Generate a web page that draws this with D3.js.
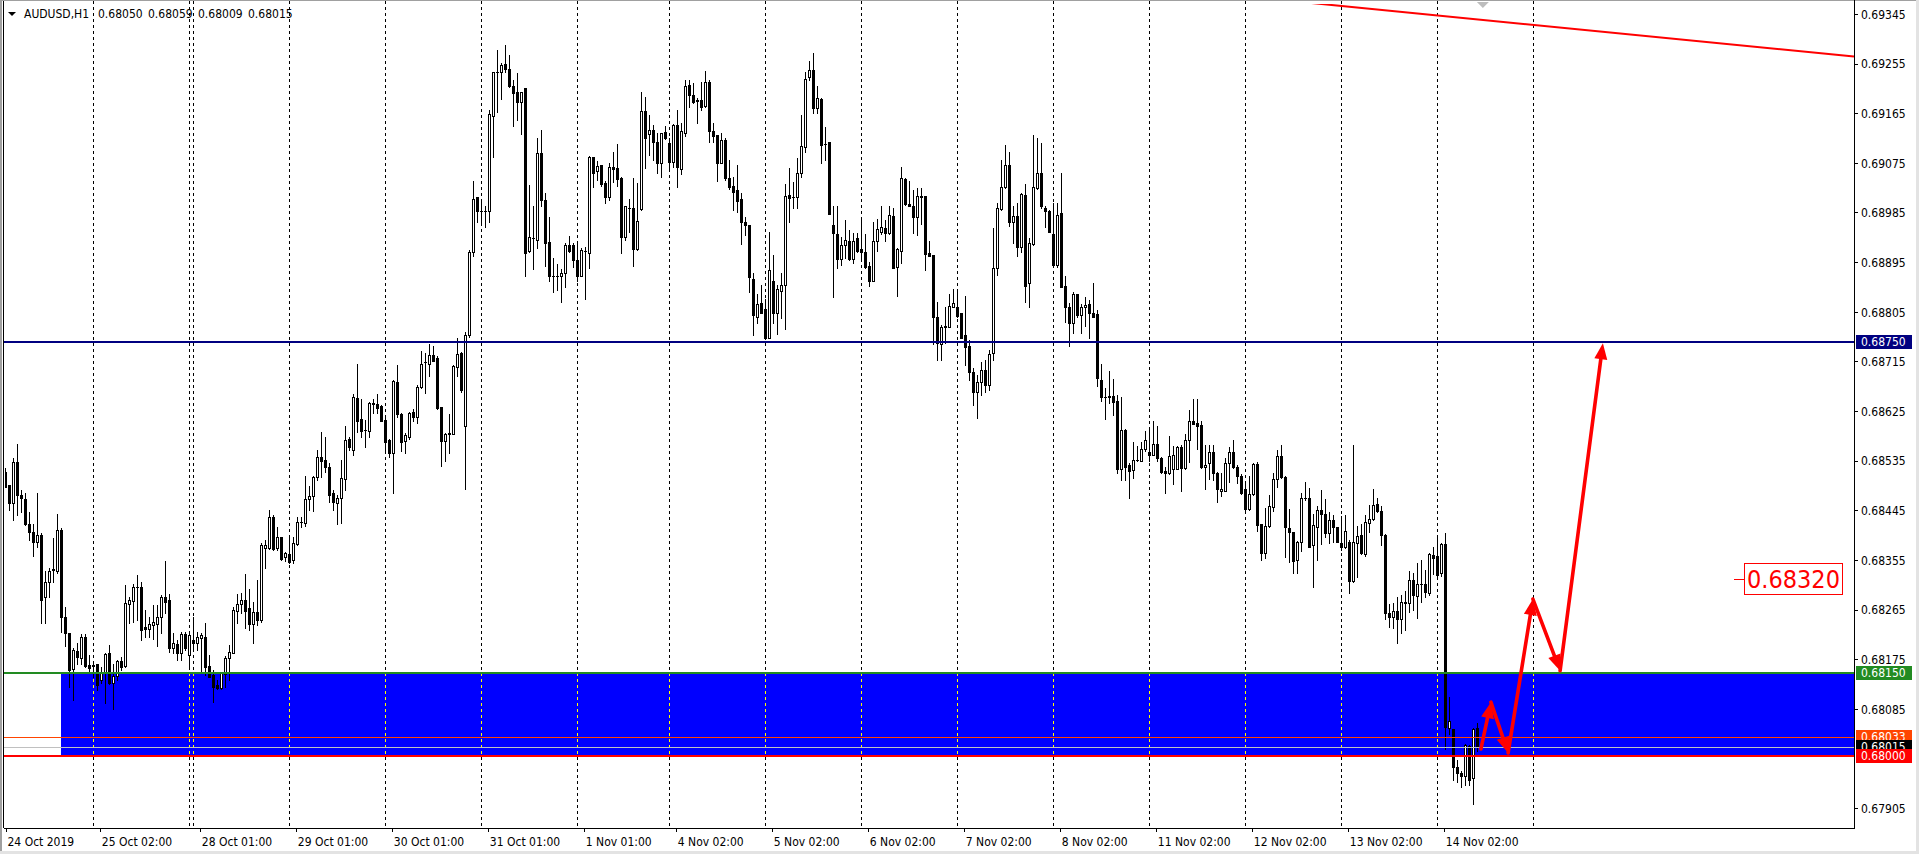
<!DOCTYPE html>
<html>
<head>
<meta charset="utf-8">
<title>AUDUSD,H1</title>
<script src="https://cdn.jsdelivr.net/npm/d3@7/dist/d3.min.js"></script>
<style>
html,body{margin:0;padding:0;background:#fff;overflow:hidden;}
svg{display:block;}
</style>
</head>
<body>
<svg id="chart" width="1919" height="854"></svg>
<script>
// ================= DATA =================
const symbolName = "AUDUSD,H1";

const openP = [
0.68515,0.68491,0.68458,0.68533,0.68473,0.68465,0.68421,0.68405,0.68388,0.68400,0.68287,0.68315,0.68337,0.68335,0.68410,0.68252,0.68222,0.68157,0.68190,0.68177,
0.68215,0.68164,0.68164,0.68166,0.68137,0.68149,0.68186,0.68131,0.68145,0.68172,0.68163,0.68275,0.68281,0.68306,0.68305,0.68233,0.68229,0.68237,0.68239,0.68251,
0.68287,0.68282,0.68195,0.68202,0.68186,0.68221,0.68182,0.68210,0.68204,0.68213,0.68216,0.68163,0.68146,0.68128,0.68122,0.68148,0.68177,0.68187,0.68263,0.68275,
0.68283,0.68267,0.68239,0.68260,0.68246,0.68376,0.68376,0.68432,0.68376,0.68396,0.68360,0.68366,0.68355,0.68384,0.68424,0.68422,0.68465,0.68471,0.68506,0.68541,
0.68536,0.68523,0.68476,0.68459,0.68467,0.68502,0.68574,0.68555,0.68648,0.68610,0.68591,0.68589,0.68639,0.68637,0.68634,0.68609,0.68572,0.68548,0.68677,0.68619,
0.68571,0.68577,0.68623,0.68615,0.68668,0.68713,0.68710,0.68726,0.68722,0.68632,0.68571,0.68585,0.68583,0.68705,0.68730,0.68598,0.68763,0.68914,0.69013,0.68988,
0.68988,0.68987,0.69160,0.69239,0.69239,0.69254,0.69245,0.69215,0.69204,0.69186,0.69210,0.68916,0.68938,0.68936,0.69092,0.69008,0.68931,0.68870,0.68870,0.68869,
0.68875,0.68926,0.68926,0.68899,0.68870,0.68916,0.68912,0.69086,0.69061,0.69071,0.69038,0.69014,0.69068,0.69066,0.69048,0.68941,0.68993,0.68993,0.68919,0.68991,
0.69169,0.69127,0.69135,0.69112,0.69074,0.69131,0.69111,0.69076,0.69144,0.69063,0.69129,0.69216,0.69198,0.69189,0.69189,0.69178,0.69221,0.69133,0.69125,0.69075,
0.69117,0.69048,0.69033,0.69025,0.69009,0.68967,0.68962,0.68864,0.68795,0.68820,0.68810,0.68757,0.68861,0.68803,0.68843,0.68854,0.69017,0.69013,0.69013,0.69056,
0.69104,0.69230,0.69243,0.69174,0.69191,0.69109,0.69112,0.68962,0.68946,0.68900,0.68926,0.68934,0.68900,0.68938,0.68919,0.68913,0.68888,0.68861,0.68933,0.68950,
0.68956,0.68948,0.68979,0.68886,0.68916,0.69045,0.69000,0.68996,0.68976,0.69015,0.69015,0.68912,0.68908,0.68795,0.68747,0.68777,0.68778,0.68814,0.68814,0.68803,
0.68763,0.68743,0.68696,0.68660,0.68678,0.68699,0.68672,0.68730,0.68884,0.68991,0.69032,0.69071,0.68968,0.68979,0.68922,0.69017,0.68857,0.68928,0.69029,0.69057,
0.68994,0.68987,0.68946,0.68890,0.68984,0.68852,0.68813,0.68785,0.68837,0.68799,0.68813,0.68819,0.68802,0.68801,0.68681,0.68650,0.68650,0.68652,0.68644,0.68519,
0.68591,0.68527,0.68518,0.68536,0.68535,0.68556,0.68551,0.68545,0.68565,0.68539,0.68517,0.68512,0.68519,0.68519,0.68559,0.68521,0.68572,0.68607,0.68604,0.68600,
0.68523,0.68530,0.68551,0.68512,0.68480,0.68480,0.68531,0.68551,0.68523,0.68507,0.68483,0.68447,0.68475,0.68529,0.68420,0.68367,0.68416,0.68451,0.68501,0.68543,
0.68505,0.68412,0.68406,0.68355,0.68388,0.68467,0.68467,0.68382,0.68415,0.68446,0.68438,0.68404,0.68427,0.68415,0.68386,0.68379,0.68388,0.68317,0.68386,0.68400,
0.68366,0.68422,0.68429,0.68456,0.68444,0.68400,0.68258,0.68252,0.68262,0.68247,0.68276,0.68276,0.68318,0.68289,0.68312,0.68311,0.68295,0.68364,0.68362,0.68331,
0.68384,0.68051,0.68048,0.67980,0.67969,0.67963,0.68017,0.67959,0.68050];

const highP = [
0.68521,0.68491,0.68539,0.68566,0.68482,0.68476,0.68442,0.68421,0.68476,0.68403,0.68335,0.68340,0.68394,0.68439,0.68412,0.68270,0.68222,0.68195,0.68204,0.68220,
0.68220,0.68182,0.68170,0.68167,0.68161,0.68186,0.68201,0.68167,0.68173,0.68179,0.68309,0.68288,0.68312,0.68328,0.68315,0.68264,0.68252,0.68273,0.68273,0.68291,
0.68353,0.68294,0.68222,0.68210,0.68225,0.68225,0.68222,0.68252,0.68225,0.68222,0.68241,0.68182,0.68155,0.68137,0.68152,0.68181,0.68201,0.68270,0.68294,0.68295,
0.68329,0.68303,0.68279,0.68318,0.68385,0.68391,0.68446,0.68436,0.68415,0.68397,0.68370,0.68397,0.68397,0.68432,0.68433,0.68507,0.68489,0.68507,0.68554,0.68587,
0.68577,0.68530,0.68482,0.68473,0.68536,0.68597,0.68578,0.68656,0.68710,0.68647,0.68609,0.68642,0.68646,0.68656,0.68636,0.68615,0.68575,0.68681,0.68708,0.68621,
0.68586,0.68624,0.68628,0.68672,0.68733,0.68730,0.68746,0.68742,0.68725,0.68633,0.68586,0.68620,0.68708,0.68757,0.68732,0.68769,0.68917,0.69043,0.69014,0.69005,
0.68997,0.69170,0.69240,0.69280,0.69257,0.69289,0.69271,0.69225,0.69238,0.69204,0.69210,0.69035,0.68997,0.69120,0.69135,0.69020,0.68976,0.68902,0.68892,0.68882,
0.68929,0.68942,0.68929,0.68932,0.68920,0.68923,0.69088,0.69086,0.69079,0.69071,0.69043,0.69074,0.69094,0.69109,0.69050,0.68997,0.69009,0.69047,0.69038,0.69204,
0.69195,0.69162,0.69144,0.69129,0.69130,0.69141,0.69120,0.69146,0.69171,0.69147,0.69225,0.69225,0.69219,0.69192,0.69222,0.69242,0.69225,0.69148,0.69125,0.69129,
0.69121,0.69080,0.69050,0.69071,0.69020,0.68977,0.68962,0.68875,0.68838,0.68854,0.68829,0.68949,0.68908,0.68854,0.68875,0.69037,0.69065,0.69041,0.69083,0.69162,
0.69239,0.69260,0.69275,0.69214,0.69192,0.69140,0.69112,0.68996,0.68997,0.68941,0.68971,0.68953,0.68948,0.68948,0.68971,0.68946,0.68896,0.68968,0.68973,0.68997,
0.68971,0.68996,0.68993,0.68920,0.69067,0.69047,0.69043,0.69026,0.69029,0.69029,0.69015,0.68934,0.68908,0.68823,0.68781,0.68814,0.68838,0.68846,0.68841,0.68803,
0.68834,0.68754,0.68703,0.68690,0.68714,0.68718,0.68736,0.68956,0.69003,0.69081,0.69107,0.69095,0.68997,0.69002,0.69021,0.69037,0.68938,0.69126,0.69121,0.69111,
0.68996,0.68990,0.69002,0.69002,0.69057,0.68869,0.68821,0.68841,0.68838,0.68819,0.68832,0.68826,0.68858,0.68808,0.68710,0.68666,0.68698,0.68683,0.68654,0.68651,
0.68592,0.68530,0.68568,0.68562,0.68568,0.68589,0.68591,0.68606,0.68598,0.68542,0.68524,0.68580,0.68562,0.68562,0.68563,0.68583,0.68627,0.68646,0.68646,0.68607,
0.68563,0.68563,0.68563,0.68515,0.68512,0.68539,0.68559,0.68572,0.68527,0.68511,0.68494,0.68507,0.68530,0.68533,0.68420,0.68449,0.68473,0.68512,0.68554,0.68563,
0.68507,0.68447,0.68406,0.68390,0.68477,0.68497,0.68485,0.68439,0.68453,0.68482,0.68465,0.68441,0.68436,0.68415,0.68435,0.68436,0.68391,0.68563,0.68416,0.68420,
0.68436,0.68455,0.68483,0.68467,0.68453,0.68402,0.68275,0.68276,0.68288,0.68291,0.68299,0.68335,0.68332,0.68349,0.68355,0.68337,0.68368,0.68379,0.68394,0.68386,
0.68403,0.68106,0.68048,0.67992,0.67973,0.68021,0.68019,0.68050,0.68059];

const lowP = [
0.68487,0.68446,0.68427,0.68436,0.68442,0.68418,0.68391,0.68362,0.68379,0.68241,0.68241,0.68288,0.68315,0.68331,0.68225,0.68198,0.68124,0.68101,0.68167,0.68167,
0.68161,0.68152,0.68143,0.68119,0.68131,0.68095,0.68130,0.68084,0.68137,0.68155,0.68161,0.68240,0.68243,0.68246,0.68210,0.68215,0.68215,0.68211,0.68198,0.68222,
0.68258,0.68188,0.68186,0.68173,0.68173,0.68192,0.68161,0.68195,0.68192,0.68152,0.68146,0.68142,0.68098,0.68120,0.68120,0.68125,0.68138,0.68186,0.68241,0.68258,
0.68231,0.68228,0.68205,0.68237,0.68243,0.68341,0.68374,0.68373,0.68373,0.68355,0.68353,0.68349,0.68349,0.68382,0.68415,0.68416,0.68446,0.68444,0.68500,0.68506,
0.68515,0.68460,0.68446,0.68420,0.68422,0.68482,0.68554,0.68545,0.68587,0.68578,0.68560,0.68577,0.68622,0.68621,0.68606,0.68554,0.68541,0.68477,0.68615,0.68553,
0.68548,0.68575,0.68606,0.68603,0.68666,0.68658,0.68688,0.68716,0.68628,0.68526,0.68535,0.68549,0.68583,0.68688,0.68659,0.68483,0.68760,0.68906,0.68967,0.68967,
0.68958,0.68968,0.69085,0.69168,0.69191,0.69239,0.69212,0.69141,0.69153,0.69127,0.68870,0.68914,0.68882,0.68920,0.68997,0.68888,0.68861,0.68840,0.68844,0.68823,
0.68850,0.68914,0.68886,0.68860,0.68869,0.68829,0.68884,0.69032,0.69044,0.69033,0.69003,0.69008,0.69041,0.69033,0.68912,0.68936,0.68950,0.68888,0.68917,0.68990,
0.69065,0.69089,0.69080,0.69056,0.69049,0.69118,0.69065,0.69067,0.69032,0.69055,0.69124,0.69176,0.69184,0.69148,0.69171,0.69177,0.69112,0.69112,0.69043,0.69074,
0.69044,0.69027,0.68990,0.68985,0.68927,0.68944,0.68840,0.68763,0.68784,0.68802,0.68757,0.68757,0.68784,0.68765,0.68793,0.68773,0.68967,0.68993,0.68993,0.69049,
0.69095,0.69225,0.69165,0.69165,0.69075,0.69080,0.68982,0.68831,0.68884,0.68890,0.68902,0.68899,0.68893,0.68914,0.68899,0.68885,0.68852,0.68861,0.68916,0.68946,
0.68934,0.68946,0.68884,0.68834,0.68893,0.68999,0.68996,0.68947,0.68944,0.68965,0.68880,0.68906,0.68747,0.68718,0.68718,0.68748,0.68778,0.68813,0.68795,0.68757,
0.68708,0.68681,0.68636,0.68612,0.68654,0.68660,0.68663,0.68718,0.68872,0.68990,0.69029,0.68960,0.68929,0.68906,0.68914,0.68823,0.68813,0.68926,0.69027,0.68994,
0.68958,0.68950,0.68890,0.68887,0.68849,0.68787,0.68743,0.68766,0.68796,0.68766,0.68779,0.68757,0.68796,0.68670,0.68644,0.68610,0.68640,0.68618,0.68513,0.68499,
0.68500,0.68467,0.68503,0.68535,0.68535,0.68553,0.68535,0.68545,0.68535,0.68513,0.68476,0.68511,0.68493,0.68519,0.68480,0.68519,0.68533,0.68601,0.68557,0.68521,
0.68483,0.68501,0.68500,0.68460,0.68471,0.68480,0.68497,0.68521,0.68495,0.68475,0.68444,0.68446,0.68473,0.68408,0.68355,0.68358,0.68415,0.68444,0.68488,0.68503,
0.68360,0.68352,0.68331,0.68331,0.68372,0.68464,0.68378,0.68305,0.68355,0.68384,0.68397,0.68385,0.68388,0.68388,0.68373,0.68376,0.68295,0.68315,0.68324,0.68366,
0.68362,0.68406,0.68427,0.68442,0.68382,0.68247,0.68234,0.68231,0.68204,0.68222,0.68228,0.68261,0.68265,0.68249,0.68279,0.68288,0.68291,0.68329,0.68326,0.68326,
0.68012,0.68040,0.67955,0.67953,0.67944,0.67947,0.67947,0.67912,0.68009];

const closeP = [
0.68488,0.68458,0.68533,0.68473,0.68467,0.68420,0.68405,0.68388,0.68400,0.68282,0.68315,0.68335,0.68338,0.68409,0.68252,0.68222,0.68155,0.68192,0.68178,0.68215,
0.68163,0.68159,0.68163,0.68128,0.68150,0.68184,0.68131,0.68145,0.68172,0.68161,0.68276,0.68282,0.68305,0.68305,0.68228,0.68229,0.68239,0.68243,0.68251,0.68287,
0.68279,0.68195,0.68204,0.68186,0.68221,0.68195,0.68219,0.68204,0.68215,0.68219,0.68161,0.68143,0.68125,0.68122,0.68149,0.68177,0.68188,0.68264,0.68275,0.68283,
0.68263,0.68239,0.68260,0.68246,0.68382,0.68382,0.68432,0.68374,0.68397,0.68356,0.68368,0.68352,0.68385,0.68424,0.68423,0.68465,0.68471,0.68506,0.68541,0.68535,
0.68523,0.68473,0.68460,0.68467,0.68503,0.68572,0.68560,0.68651,0.68607,0.68589,0.68590,0.68639,0.68638,0.68631,0.68607,0.68569,0.68548,0.68679,0.68619,0.68568,
0.68581,0.68622,0.68615,0.68669,0.68710,0.68713,0.68726,0.68716,0.68631,0.68571,0.68583,0.68584,0.68707,0.68728,0.68663,0.68763,0.68914,0.69009,0.68988,0.68988,
0.68988,0.69164,0.69239,0.69239,0.69253,0.69245,0.69215,0.69202,0.69185,0.69204,0.68911,0.68940,0.68938,0.69092,0.69008,0.68930,0.68869,0.68870,0.68870,0.68875,
0.68926,0.68916,0.68898,0.68869,0.68917,0.68916,0.69086,0.69057,0.69069,0.69037,0.69013,0.69068,0.69063,0.69046,0.68940,0.68996,0.68993,0.68918,0.68970,0.69169,
0.69121,0.69135,0.69112,0.69074,0.69129,0.69121,0.69077,0.69144,0.69068,0.69132,0.69214,0.69198,0.69186,0.69188,0.69177,0.69221,0.69133,0.69124,0.69074,0.69117,
0.69048,0.69032,0.69023,0.69005,0.68967,0.68962,0.68868,0.68799,0.68819,0.68802,0.68757,0.68881,0.68803,0.68846,0.68854,0.69015,0.69011,0.69013,0.69056,0.69106,
0.69227,0.69243,0.69174,0.69192,0.69107,0.69109,0.68982,0.68947,0.68900,0.68926,0.68935,0.68900,0.68933,0.68916,0.68913,0.68887,0.68860,0.68933,0.68955,0.68958,
0.68948,0.68981,0.68884,0.68918,0.69047,0.69000,0.68996,0.68976,0.69015,0.69013,0.68910,0.68906,0.68795,0.68748,0.68778,0.68779,0.68815,0.68820,0.68797,0.68757,
0.68741,0.68696,0.68660,0.68678,0.68699,0.68672,0.68728,0.68884,0.68993,0.69031,0.69072,0.68968,0.68979,0.68923,0.69019,0.68852,0.68929,0.69031,0.69057,0.68996,
0.68987,0.68950,0.68890,0.68981,0.68850,0.68813,0.68785,0.68837,0.68799,0.68814,0.68817,0.68803,0.68796,0.68684,0.68650,0.68650,0.68652,0.68642,0.68519,0.68591,
0.68524,0.68517,0.68536,0.68536,0.68557,0.68572,0.68545,0.68565,0.68539,0.68515,0.68512,0.68543,0.68545,0.68559,0.68521,0.68572,0.68607,0.68601,0.68598,0.68523,
0.68527,0.68551,0.68512,0.68483,0.68483,0.68530,0.68551,0.68523,0.68507,0.68476,0.68447,0.68475,0.68529,0.68418,0.68367,0.68416,0.68453,0.68501,0.68543,0.68505,
0.68414,0.68406,0.68353,0.68388,0.68467,0.68467,0.68379,0.68418,0.68446,0.68439,0.68404,0.68427,0.68414,0.68388,0.68379,0.68407,0.68317,0.68387,0.68398,0.68367,
0.68423,0.68429,0.68455,0.68444,0.68400,0.68258,0.68252,0.68262,0.68247,0.68279,0.68279,0.68318,0.68291,0.68312,0.68311,0.68297,0.68366,0.68358,0.68328,0.68384,
0.68052,0.68063,0.67980,0.67968,0.67963,0.68019,0.67956,0.68048,0.68015];

const priceTicks = [0.69345,0.69255,0.69165,0.69075,0.68985,0.68895,0.68805,0.68715,0.68625,0.68535,0.68445,0.68355,0.68265,0.68175,0.68085,0.67905];

const timeLabels = ["24 Oct 2019","25 Oct 02:00","28 Oct 01:00","29 Oct 01:00","30 Oct 01:00","31 Oct 01:00","1 Nov 01:00","4 Nov 02:00","5 Nov 02:00","6 Nov 02:00","7 Nov 02:00","8 Nov 02:00","11 Nov 02:00","12 Nov 02:00","13 Nov 02:00","14 Nov 02:00"];
const timeLabelBars = [0,22,47,71,95,119,143,166,190,214,238,262,286,310,334,358];
const gridBars = [22,46,47,71,95,119,143,166,190,214,238,262,286,310,334,358,382];

// horizontal levels: resistance, zone top, ask, bid, zone bottom
const levelPrices = [0.68750,0.68150,0.68033,0.68015,0.68000];
const zoneTop = 0.68150, zoneBottom = 0.68000, zoneStartBar = 13.9;
const trendBars = [329.2, 462.2];
const trendPrices = [0.69363, 0.69268];
const pathBars = [368.9, 371.4, 375.7, 381.9, 388.7, 399.4];
const pathPrices = [0.68012, 0.68097, 0.68005, 0.68284, 0.68154, 0.68748];
const targetPrice = 0.68320, targetBar = 434.7, targetLeaderBar = 432.2;
const shiftMarkerBar = 369.4;

// ================= STYLE =================
const levelLineColors = ["#000080","#228B22","#FF4500","#C0C0C0","#FF0000"];
const levelBoxColors  = ["#000080","#228B22","#FF4500","#000000","#FF0000"];
const levelWidths     = [2,2,1,1,2];

// ================= DRAW =================
const svg = d3.select("#chart");
const L = 4, R = 1854, T = 4, B = 828;
const x = d3.scaleLinear().domain([-0.325, 462.175]).range([L, R]);
const y = d3.scaleLinear().domain([0.678688, 0.693631]).range([B, T]);

function fontAvailable(name){
  const t = svg.append("text").attr("font-size",40).attr("font-family","monospace").text("0.68320 AUDUSD Oct");
  const w1 = t.node().getComputedTextLength();
  t.attr("font-family", name + ",monospace");
  const w2 = t.node().getComputedTextLength();
  t.remove();
  return Math.abs(w1 - w2) > 1;
}
const condensed = fontAvailable('"DejaVu Sans Condensed"');
const FONT = condensed ? '"DejaVu Sans Condensed"' : '"DejaVu Sans"';
const FS = condensed ? 12 : 11;
const BIGFS = condensed ? 25 : 22.5;

svg.append("rect").attr("width",1919).attr("height",854).attr("fill","#fff");

const defs = svg.append("defs");
defs.append("clipPath").attr("id","plotClip").append("rect")
  .attr("x",L+1).attr("y",T).attr("width",R-L-1).attr("height",B-T);

const zx0 = Math.round(x(zoneStartBar));
const zy0 = Math.round(y(zoneTop)), zy1 = Math.round(y(zoneBottom));
defs.append("clipPath").attr("id","zoneClip").append("rect")
  .attr("x",zx0).attr("y",zy0).attr("width",R-zx0).attr("height",zy1-zy0);

// zone rectangle (background object)
svg.append("rect").attr("x",zx0).attr("y",zy0).attr("width",R-zx0).attr("height",zy1-zy0)
  .attr("fill","#0000FF").attr("shape-rendering","crispEdges");

// grid (inverted colour inside the zone)
function drawGrid(color, clip){
  const g = svg.append("g").attr("shape-rendering","crispEdges");
  if (clip) g.attr("clip-path", clip);
  g.selectAll("line").data(gridBars).join("line")
    .attr("x1",d=>Math.floor(x(d))+0.5).attr("x2",d=>Math.floor(x(d))+0.5)
    .attr("y1",1).attr("y2",B)
    .attr("stroke",color).attr("stroke-width",1).attr("stroke-dasharray","3,3");
}
drawGrid("#000", null);
drawGrid("#FFFF00", "url(#zoneClip)");

// candles
const bars = d3.range(openP.length).map(i => ({i, o:openP[i], h:highP[i], l:lowP[i], c:closeP[i]}));
const px = d => Math.floor(x(d.i));
const py = v => Math.round(y(v));
const bTop = d => py(Math.max(d.o,d.c));
const bH = d => Math.max(1, py(Math.min(d.o,d.c)) - bTop(d) + 1);
const isBull = d => d.c > d.o && bH(d) >= 3;

const cg = svg.append("g").attr("clip-path","url(#plotClip)").attr("shape-rendering","crispEdges");
cg.selectAll("rect.wick").data(bars).join("rect").attr("class","wick")
  .attr("x",px).attr("y",d=>py(d.h)).attr("width",1)
  .attr("height",d=>Math.max(1, py(d.l)-py(d.h)+1)).attr("fill","#000");
cg.selectAll("rect.body").data(bars).join("rect").attr("class","body")
  .attr("x",d=>px(d)-1).attr("y",bTop).attr("width",3).attr("height",bH)
  .attr("fill",d=>isBull(d) ? "#fff" : "#000");
cg.selectAll("rect.outline").data(bars.filter(isBull)).join("rect").attr("class","outline")
  .attr("x",d=>px(d)-0.5).attr("y",d=>bTop(d)+0.5).attr("width",2).attr("height",d=>bH(d)-1)
  .attr("fill","none").attr("stroke","#000").attr("stroke-width",1);

// horizontal level lines
const lg = svg.append("g").attr("shape-rendering","crispEdges");
lg.selectAll("rect").data(levelPrices).join("rect")
  .attr("x",L).attr("width",R-L)
  .attr("y",(d,i)=>Math.round(y(d)) - (levelWidths[i] > 1 ? 1 : 0))
  .attr("height",(d,i)=>levelWidths[i])
  .attr("fill",(d,i)=>levelLineColors[i]);

// trend line
const tSlope = (trendPrices[1]-trendPrices[0])/(trendBars[1]-trendBars[0]);
const tb0 = x.invert(L), tb1 = x.invert(R);
svg.append("line").attr("clip-path","url(#plotClip)")
  .attr("x1",x(tb0)).attr("y1",y(trendPrices[0] + (tb0-trendBars[0])*tSlope))
  .attr("x2",x(tb1)).attr("y2",y(trendPrices[0] + (tb1-trendBars[0])*tSlope))
  .attr("stroke","#FF0000").attr("stroke-width",2);

// projected path arrows
const ag = svg.append("g");
const pts = pathBars.map((b,i)=>[x(b), y(pathPrices[i])]);
for (let i=0;i<pts.length-1;i++){
  const [x0,y0] = pts[i], [x1,y1] = pts[i+1];
  const dx = x1-x0, dy = y1-y0, len = Math.hypot(dx,dy);
  const ux = dx/len, uy = dy/len, HL = 16, HW = 6.5;
  const bx = x1-ux*HL, by = y1-uy*HL;
  ag.append("line").attr("x1",x0).attr("y1",y0).attr("x2",bx+ux*3).attr("y2",by+uy*3)
    .attr("stroke","#FF0000").attr("stroke-width",3.6).attr("stroke-linecap","round");
  ag.append("polygon")
    .attr("points",[[x1,y1],[bx-uy*HW,by+ux*HW],[bx+uy*HW,by-ux*HW]].map(p=>p.join(",")).join(" "))
    .attr("fill","#FF0000");
}

// target price label
const ty = Math.round(y(targetPrice));
const tx = Math.round(x(targetBar));
svg.append("line").attr("x1",Math.round(x(targetLeaderBar))).attr("x2",tx).attr("y1",ty+0.5).attr("y2",ty+0.5)
  .attr("stroke","#FF0000").attr("stroke-width",1).attr("shape-rendering","crispEdges");
const tBox = svg.append("rect");
const tText = svg.append("text").attr("x",tx+3).attr("y",ty).attr("dy","0.36em")
  .attr("font-family",FONT).attr("font-size",BIGFS).attr("fill","#FF0000")
  .text(targetPrice.toFixed(5));
const tw = tText.node().getComputedTextLength();
tBox.attr("x",tx+0.5).attr("y",ty-15.5).attr("width",Math.round(tw)+5).attr("height",31)
  .attr("fill","#fff").attr("stroke","#FF0000").attr("stroke-width",1);

// frame
const fg = svg.append("g").attr("shape-rendering","crispEdges");
fg.append("rect").attr("x",0).attr("y",0).attr("width",1919).attr("height",1).attr("fill","#A0A0A0");
fg.append("rect").attr("x",0).attr("y",0).attr("width",2).attr("height",854).attr("fill","#A0A0A0");
fg.append("rect").attr("x",1916).attr("y",0).attr("width",3).attr("height",854).attr("fill","#E3E3E3");
fg.append("rect").attr("x",0).attr("y",851).attr("width",1919).attr("height",3).attr("fill","#E3E3E3");
fg.append("rect").attr("x",3).attr("y",1).attr("width",1).attr("height",B-1).attr("fill","#000");
fg.append("rect").attr("x",L).attr("y",B).attr("width",R-L+1).attr("height",1).attr("fill","#000");

// price axis
const yAxis = d3.axisRight(y).tickValues(priceTicks).tickSize(4).tickSizeOuter(0).tickPadding(3)
  .tickFormat(d3.format(".5f"));
svg.append("g").attr("transform",`translate(${R},0)`).attr("shape-rendering","crispEdges")
  .call(yAxis)
  .call(g=>g.select(".domain").attr("stroke","#000").attr("d",`M0.5,0V${B+1}`))
  .call(g=>g.selectAll("text").attr("font-family",FONT).attr("font-size",FS).attr("fill","#000").attr("dy","0.36em"));

// level labels on price axis (overlapping boxes, as on the terminal)
const lbl = svg.append("g");
levelPrices.forEach((p,i)=>{
  const yy = Math.round(y(p));
  lbl.append("rect").attr("x",R+2).attr("y",yy-7).attr("width",56).attr("height",14)
    .attr("fill",levelBoxColors[i]).attr("shape-rendering","crispEdges");
  lbl.append("text").attr("x",R+7).attr("y",yy).attr("dy","0.36em")
    .attr("font-family",FONT).attr("font-size",FS).attr("fill","#fff").text(p.toFixed(5));
});

// time axis
const xTick = x.copy().range([L+7, R+7]);
const xAxis = d3.axisBottom(xTick).tickValues(timeLabelBars).tickSize(4).tickSizeOuter(0).tickPadding(5)
  .tickFormat((d,i)=>timeLabels[i]);
svg.append("g").attr("transform",`translate(0,${B})`).attr("shape-rendering","crispEdges")
  .call(xAxis)
  .call(g=>g.select(".domain").remove())
  .call(g=>g.selectAll(".tick").filter((d,i)=>i===0).attr("transform","translate(6.5,0)"))
  .call(g=>g.selectAll("text").attr("text-anchor","start").attr("dx",1)
    .attr("font-family",FONT).attr("font-size",FS).attr("fill","#000"));

// header
const last = bars[bars.length-1];
svg.append("path").attr("d","M8,12 L16,12 L12,16 Z").attr("fill","#000");
svg.append("text").attr("x",24).attr("y",18).attr("font-family",FONT).attr("font-size",FS)
  .attr("fill","#000").text(symbolName);
[last.o,last.h,last.l,last.c].forEach((v,i)=>{
  svg.append("text").attr("x",98+i*50).attr("y",18).attr("font-family",FONT).attr("font-size",FS)
    .attr("fill","#000").text(v.toFixed(5));
});

// chart shift marker
const sx = x(shiftMarkerBar);
svg.append("path").attr("d",`M${sx-6},2 L${sx+6},2 L${sx},8 Z`).attr("fill","#BDBDBD");
</script>
</body>
</html>
